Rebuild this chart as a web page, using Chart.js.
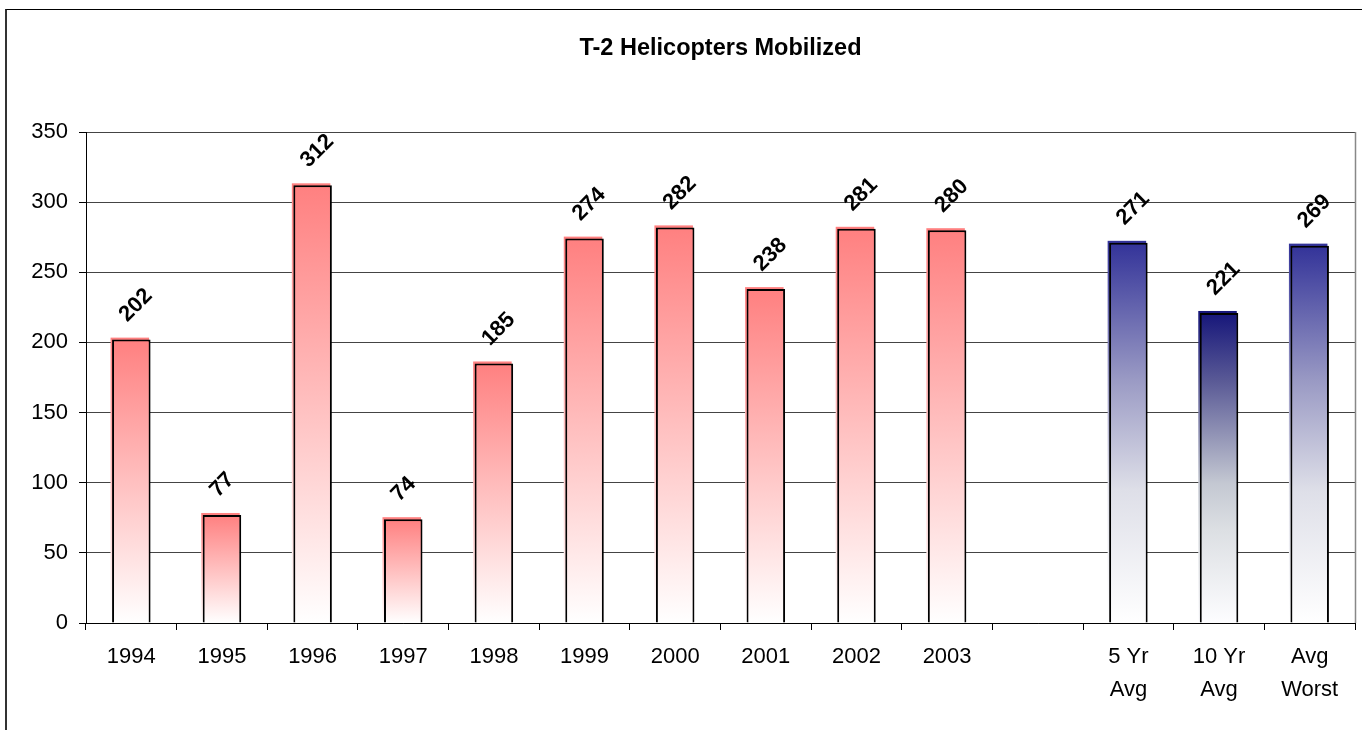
<!DOCTYPE html>
<html>
<head>
<meta charset="utf-8">
<title>T-2 Helicopters Mobilized</title>
<script src="https://cdn.jsdelivr.net/npm/chart.js@4/dist/chart.umd.min.js"></script>
<style>
    html, body { margin: 0; padding: 0; background: #fff; overflow: hidden; }
    #wrap { position: relative; width: 1362px; height: 730px; }
    #frame { position: absolute; left: 5px; top: 9px; width: 1400px; height: 800px;
             border-left: 2px solid #333; border-top: 1px solid #000; }
    #helicopterChart { position: absolute; left: 0; top: 0; }
</style>
</head>
<body>
<div id="wrap">
    <div id="frame"></div>
    <canvas id="helicopterChart" width="1362" height="730"></canvas>
</div>
<script>
const judul = 'T-2 Helicopters Mobilized';
const kategori = ['1994', '1995', '1996', '1997', '1998', '1999', '2000', '2001', '2002', '2003', '',
    ['5 Yr', 'Avg'], ['10 Yr', 'Avg'], ['Avg', 'Worst']];
const jumlahHeli = [202, 77, 312, 74, 185, 274, 282, 238, 281, 280, null, 271, 221, 269];
const tickY = [0, 50, 100, 150, 200, 250, 300, 350];

const fontFamily = "'Liberation Sans', Arial, sans-serif";

// gradient stops per group: yearly bars red, averages blue, 10 yr avg darker
function warnaStop(index) {
    if (index === 12) return [[0, '#16167a'], [0.22, '#5a5a96'], [0.55, '#c4c8d2'], [0.7, '#dcdfe3'], [1, '#fdfdff']];
    if (index > 10) return [[0, '#333399'], [0.36, '#9a9ac4'], [0.65, '#dedfe8'], [1, '#ffffff']];
    return [[0, '#ff8080'], [1, '#ffffff']];
}

function buatGradient(chart, index, top, bottom) {
    const g = chart.ctx.createLinearGradient(0, top, 0, bottom);
    warnaStop(index).forEach(s => g.addColorStop(s[0], s[1]));
    return g;
}

// colored sliver peeking out above / left of each outlined bar
const barShade = {
    id: 'barShade',
    beforeDatasetsDraw(chart) {
        const ctx = chart.ctx;
        chart.getDatasetMeta(0).data.forEach((bar, i) => {
            if (jumlahHeli[i] == null) return;
            const w = bar.width;
            ctx.fillStyle = buatGradient(chart, i, bar.y - 2, bar.base);
            ctx.fillRect(bar.x - w / 2 - 1.5, bar.y - 2, w, bar.base - bar.y + 2);
        });
    }
};

// title over the plot area, rotated value labels, right edge of the plot area
const nilaiLabel = {
    id: 'nilaiLabel',
    afterDatasetsDraw(chart) {
        const ctx = chart.ctx;
        const area = chart.chartArea;
        ctx.save();
        ctx.strokeStyle = '#888';
        ctx.lineWidth = 1.5;
        ctx.beginPath();
        ctx.moveTo(area.right + 0.5, area.top);
        ctx.lineTo(area.right + 0.5, area.bottom);
        ctx.stroke();

        ctx.fillStyle = '#000';
        ctx.font = 'bold 23.5px ' + fontFamily;
        ctx.textAlign = 'center';
        ctx.textBaseline = 'middle';
        ctx.fillText(judul, (area.left + area.right) / 2, 48.5);

        ctx.font = 'bold 22px ' + fontFamily;
        ctx.textAlign = 'left';
        ctx.textBaseline = 'alphabetic';
        chart.getDatasetMeta(0).data.forEach((bar, i) => {
            if (jumlahHeli[i] == null) return;
            ctx.save();
            ctx.translate(bar.x - 4, bar.y - 17);
            ctx.rotate(-Math.PI / 4);
            ctx.fillText(String(jumlahHeli[i]), 0, 0);
            ctx.restore();
        });
        ctx.restore();
    }
};

const ctx = document.getElementById('helicopterChart').getContext('2d');
const heliChart = new Chart(ctx, {
    type: 'bar',
    data: {
        labels: kategori,
        datasets: [{
            data: jumlahHeli,
            backgroundColor: (c) => {
                const chart = c.chart;
                if (!chart.chartArea || c.raw == null) return '#ff8080';
                const y = chart.scales.y;
                return buatGradient(chart, c.dataIndex, y.getPixelForValue(c.raw), y.getPixelForValue(0));
            },
            borderColor: '#000',
            borderWidth: 2,
            barPercentage: 0.425,
            categoryPercentage: 1
        }]
    },
    options: {
        responsive: false,
        animation: false,
        layout: { padding: { left: 0, right: 7, top: 132, bottom: 0 } },
        plugins: {
            legend: { display: false },
            tooltip: { enabled: false },
            title: { display: false }
        },
        scales: {
            x: {
                afterFit: (s) => { s.height = 107; },
                grid: { display: true, drawOnChartArea: false, offset: true, tickLength: 7, color: '#000' },
                border: { color: '#000', width: 1 },
                ticks: {
                    color: '#000',
                    font: { family: fontFamily, size: 22, lineHeight: 1.5 },
                    padding: 10,
                    maxRotation: 0,
                    autoSkip: false
                }
            },
            y: {
                min: 0,
                max: 350,
                afterFit: (s) => { s.width = 86; },
                afterBuildTicks: (s) => { s.ticks = tickY.map(v => ({ value: v })); },
                grid: { color: '#444', tickColor: '#000', tickLength: 7 },
                border: { color: '#000', width: 1 },
                ticks: {
                    color: '#000',
                    font: { family: fontFamily, size: 22 },
                    padding: 11
                }
            }
        }
    },
    plugins: [barShade, nilaiLabel]
});
</script>
</body>
</html>
